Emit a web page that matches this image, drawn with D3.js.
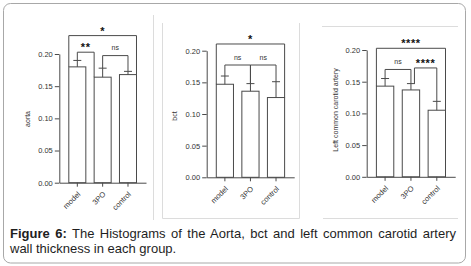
<!DOCTYPE html>
<html><head><meta charset="utf-8">
<script src="https://cdn.jsdelivr.net/npm/d3@7"></script>
<style>
html,body{margin:0;padding:0;background:#fff;}
#wrap{position:relative;width:471px;height:266px;overflow:hidden;background:#fff;}
svg{position:absolute;left:0;top:0;}
#cap{position:absolute;left:10px;top:226px;width:446px;font-family:"Liberation Sans",Arial,sans-serif;font-size:13px;line-height:15px;color:#1e1e1e;}
#cap .l1{text-align:justify;text-align-last:justify;}
#cap b{font-weight:bold;}
</style></head>
<body><div id="wrap"><div id="cap"><div class="l1"><b>Figure 6:</b> The Histograms of the Aorta, bct and left common carotid artery</div><div>wall thickness in each group.</div></div></div>
<script>
const categories = ["model", "3PO", "control"];
const yTicks = [0, 0.05, 0.10, 0.15, 0.20];

const aortaMean = [0.180, 0.164, 0.168];
const aortaErr  = [0.010, 0.014, 0.005];
const bctMean   = [0.147, 0.136, 0.126];
const bctErr    = [0.013, 0.012, 0.025];
const lccaMean  = [0.143, 0.137, 0.105];
const lccaErr   = [0.012, 0.010, 0.014];

const aortaSig = [
  {from: [0, "left"], to: [2, "right"], label: "*", level: 0.2286},
  {from: [0, "center"], to: [1, "left"], label: "**", level: 0.2028},
  {from: [1, "center"], to: [2, "center"], label: "ns", level: 0.1975}
];
const bctSig = [
  {from: [0, "left"], to: [2, "right"], label: "*", level: 0.2106},
  {from: [0, "center"], to: [1, "center"], label: "ns", level: 0.1774},
  {from: [1, "center"], to: [2, "center"], label: "ns", level: 0.1774}
];
const lccaSig = [
  {from: [0, "left"], to: [2, "right"], label: "****", level: 0.2027},
  {from: [0, "center"], to: [1, "center"], label: "ns", level: 0.1693},
  {from: [1, "centerR"], to: [2, "center"], label: "****", level: 0.1717}
];

const panels = [
  {title: "aorta", mean: aortaMean, err: aortaErr, sig: aortaSig, ax: 59.3, y0: 182.7, y1: 54.0, w: 86.7, labelX: 30, labelY: 119},
  {title: "bct", mean: bctMean, err: bctErr, sig: bctSig, ax: 206.7, y0: 177.3, y1: 50.7, w: 87.5, labelX: 177, labelY: 116},
  {title: "Left common carotid artery", mean: lccaMean, err: lccaErr, sig: lccaSig, ax: 366.7, y0: 176.8, y1: 50.0, w: 88.5, labelX: 338, labelY: 110}
];

const FONT = '"Liberation Sans", Arial, sans-serif';
const LINE = "#4a4a4a";
const TXT = "#333";

const svg = d3.select("#wrap").insert("svg", ":first-child")
  .attr("width", 471).attr("height", 266);

// outer frame and panel borders
svg.append("rect").attr("x", 3.5).attr("y", 3.5).attr("width", 462).attr("height", 259.5)
  .attr("rx", 7).attr("fill", "none").attr("stroke", "#a8a8a8").attr("stroke-width", 1);
const frame = [
  [153.5, 15, 153.5, 220],
  [162.5, 23, 162.5, 218.5], [299.5, 23, 299.5, 218.5], [162.5, 218.5, 299.5, 218.5],
  [322, 26.5, 458, 26.5], [323, 218.5, 458, 218.5]
];
svg.selectAll("line.frame").data(frame).join("line").attr("class", "frame")
  .attr("x1", d => d[0]).attr("y1", d => d[1]).attr("x2", d => d[2]).attr("y2", d => d[3])
  .attr("stroke", "#dcdcdc").attr("stroke-width", 1);

panels.forEach(p => {
  const g = svg.append("g");
  const y = d3.scaleLinear().domain([0, 0.20]).range([p.y0, p.y1]);
  const x = d3.scaleBand().domain(categories).range([p.ax, p.ax + p.w])
    .paddingInner(0.328).paddingOuter(0.375);
  const bw = x.bandwidth();

  // bars
  g.selectAll("rect.bar").data(categories).join("rect").attr("class", "bar")
    .attr("x", d => x(d)).attr("y", (d, i) => y(p.mean[i]))
    .attr("width", bw).attr("height", (d, i) => y(0) - y(p.mean[i]))
    .attr("fill", "#fff").attr("stroke", LINE).attr("stroke-width", 1);

  // error bars (upper only)
  const eb = g.selectAll("g.eb").data(categories).join("g").attr("class", "eb");
  eb.append("line")
    .attr("x1", d => x(d) + bw / 2).attr("x2", d => x(d) + bw / 2)
    .attr("y1", (d, i) => y(p.mean[i])).attr("y2", (d, i) => y(p.mean[i] + p.err[i]))
    .attr("stroke", LINE).attr("stroke-width", 1);
  eb.append("line")
    .attr("x1", d => x(d) + bw / 2 - 4).attr("x2", d => x(d) + bw / 2 + 4)
    .attr("y1", (d, i) => y(p.mean[i] + p.err[i])).attr("y2", (d, i) => y(p.mean[i] + p.err[i]))
    .attr("stroke", LINE).attr("stroke-width", 1);

  // y axis
  const ya = g.append("g").attr("transform", `translate(${p.ax},0)`)
    .call(d3.axisLeft(y).tickValues(yTicks).tickFormat(d3.format(".2f")).tickSize(4.5).tickPadding(2).tickSizeOuter(0));
  ya.select(".domain").attr("stroke", LINE);
  ya.selectAll(".tick line").attr("stroke", LINE);
  ya.selectAll("text").attr("font-family", FONT).attr("font-size", 7.5).attr("fill", TXT);

  // x axis
  const xa = g.append("g").attr("transform", `translate(0,${p.y0})`)
    .call(d3.axisBottom(x).tickSize(4).tickSizeOuter(0));
  xa.select(".domain").attr("stroke", LINE);
  xa.selectAll(".tick line").attr("stroke", LINE);
  xa.selectAll("text")
    .attr("font-family", FONT).attr("font-size", 7.5).attr("fill", TXT)
    .attr("text-anchor", "end").attr("dy", null).attr("y", 0)
    .attr("transform", "translate(3.5,12) rotate(-45)");

  // axis title
  g.append("text")
    .attr("transform", `translate(${p.labelX},${p.labelY}) rotate(-90)`)
    .attr("text-anchor", "middle").attr("font-family", FONT).attr("font-size", 7)
    .attr("fill", TXT).text(p.title);

  // significance brackets
  const anchor = (a) => {
    const i = a[0], c = categories[i];
    if (a[1] === "left") return {x: x(c), v: p.mean[i]};
    if (a[1] === "right") return {x: x(c) + bw, v: p.mean[i]};
    if (a[1] === "centerR") return {x: x(c) + bw / 2 + 3.5, v: p.mean[i] + p.err[i]};
    return {x: x(c) + bw / 2, v: p.mean[i] + p.err[i]};
  };
  p.sig.forEach(s => {
    const A = anchor(s.from), B = anchor(s.to), by = y(s.level);
    g.append("path")
      .attr("d", d3.line()([[A.x, y(A.v)], [A.x, by], [B.x, by], [B.x, y(B.v)]]))
      .attr("fill", "none").attr("stroke", LINE).attr("stroke-width", 1);
    const star = s.label.indexOf("*") >= 0;
    g.append("text")
      .attr("x", (A.x + B.x) / 2)
      .attr("y", star ? by - 0.8 : by - 5.2)
      .attr("text-anchor", "middle").attr("font-family", FONT)
      .attr("font-size", star ? 11 : 7).attr("font-weight", star ? "bold" : "normal")
      .attr("letter-spacing", star ? 0.6 : 0)
      .attr("fill", star ? "#111" : TXT).text(s.label);
  });
});
</script>
</body></html>
